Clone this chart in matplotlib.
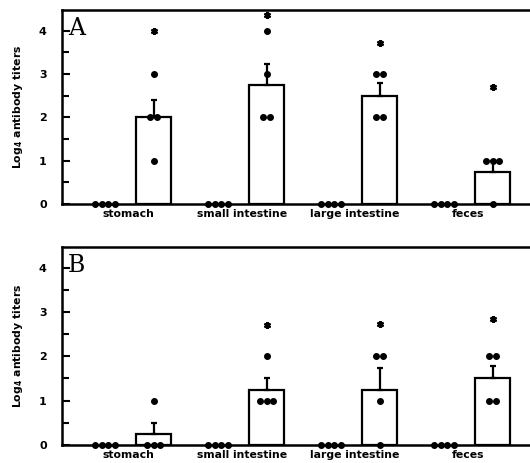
import matplotlib
matplotlib.use("Agg")
import matplotlib.pyplot as plt
import numpy as np

# data
categories = ["stomach", "small intestine", "large intestine", "feces"]

control_a = [[0, 0, 0, 0]] * 4
points_a = [[3, 2, 2, 1], [4, 3, 2, 2], [3, 3, 2, 2], [1, 1, 1, 0]]
means_a = [2.0, 2.75, 2.5, 0.75]
errs_a = [0.41, 0.48, 0.29, 0.25]
star_a = [4.0, 4.36, 3.72, 2.7]

control_b = [[0, 0, 0, 0]] * 4
points_b = [[1, 0, 0, 0], [2, 1, 1, 1], [2, 2, 1, 0], [2, 2, 1, 1]]
means_b = [0.25, 1.25, 1.25, 1.5]
errs_b = [0.25, 0.25, 0.48, 0.29]
star_b = [None, 2.71, 2.73, 2.85]

BAR_SHIFT = 0.43
BAR_W = 0.31
DOT_GAP = 0.058


def spread(vals, x0):
    xs, ys = [], []
    for v in sorted(set(vals)):
        n = vals.count(v)
        for k in range(n):
            xs.append(x0 + (k - (n - 1) / 2) * DOT_GAP)
            ys.append(v)
    return xs, ys


def draw_panel(ax, letter, controls, points, means, errs, stars):
    x = np.arange(len(categories))
    ax.bar(x + BAR_SHIFT, means, width=BAR_W, color="white", edgecolor="black",
           linewidth=1.6, zorder=2)
    ax.errorbar(x + BAR_SHIFT, means, yerr=[np.zeros(len(errs)), errs], fmt="none",
                ecolor="black", elinewidth=1.6, capsize=2.5, capthick=1.6, zorder=3)
    for i in range(len(categories)):
        cx, cy = spread(controls[i], x[i])
        ax.plot(cx, cy, "o", color="black", ms=4.0, clip_on=False, zorder=4)
        px, py = spread(points[i], x[i] + BAR_SHIFT)
        ax.plot(px, py, "o", color="black", ms=4.0, clip_on=False, zorder=4)
        if stars[i] is not None:
            ax.plot(x[i] + BAR_SHIFT, stars[i], marker=(6, 2, 0), color="black",
                    ms=5, mew=1.6, zorder=4)
        ax.text(x[i] + 0.21, -0.12, categories[i], ha="center", va="top",
                fontsize=7.8, fontweight="bold", transform=ax.transData)

    ax.set_xlim(-0.38, 3.76)
    ax.set_ylim(0, 4.47)
    ax.set_xticks([])
    ax.set_yticks([0, 1, 2, 3, 4])
    ax.set_yticks(np.arange(0.5, 4.5, 1), minor=True)
    ax.tick_params(axis="y", which="both", direction="in", width=1.5,
                   labelsize=8, pad=11)
    ax.tick_params(axis="y", which="major", length=6)
    ax.tick_params(axis="y", which="minor", length=5)
    for lab in ax.get_yticklabels():
        lab.set_fontweight("bold")
    for side in ["left", "bottom", "top"]:
        ax.spines[side].set_linewidth(1.8)
    ax.spines["right"].set_visible(False)
    ax.set_ylabel("Log$_\\mathbf{4}$ antibody titers", fontsize=7.8, fontweight="bold",
                  labelpad=10)
    ax.text(0.012, 0.965, letter, transform=ax.transAxes, ha="left", va="top",
            fontsize=17, family="DejaVu Serif")


fig = plt.figure(figsize=(5.3, 4.63), dpi=100)
ax_a = fig.add_axes([0.117, 0.559, 0.883, 0.419])
ax_b = fig.add_axes([0.117, 0.039, 0.883, 0.428])

draw_panel(ax_a, "A", control_a, points_a, means_a, errs_a, star_a)
draw_panel(ax_b, "B", control_b, points_b, means_b, errs_b, star_b)

fig.savefig("out.png", dpi=100)
